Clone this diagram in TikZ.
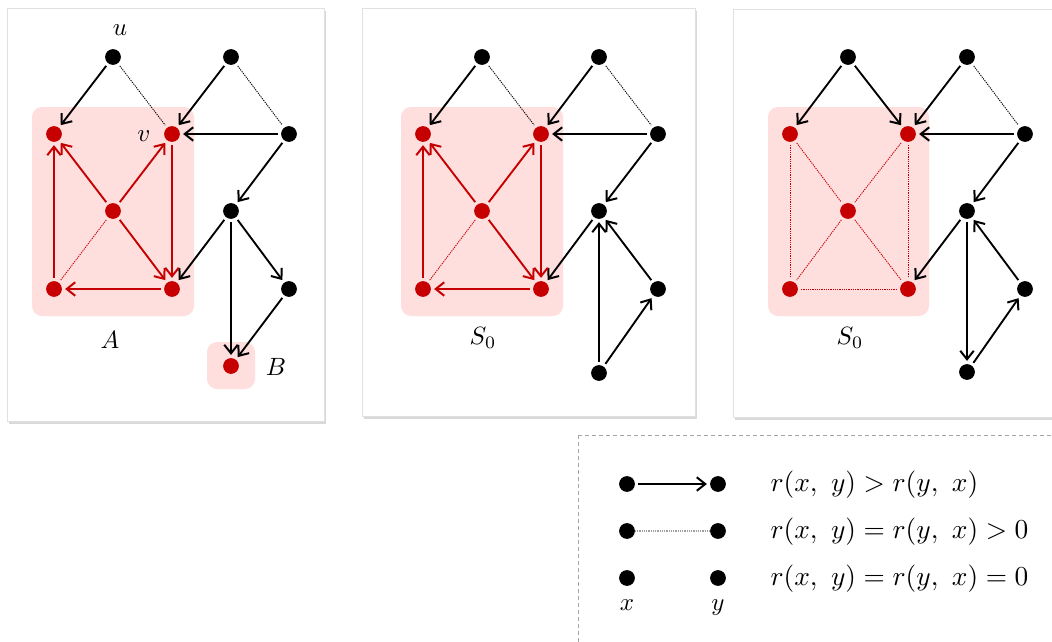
\documentclass[tikz,border=0pt]{standalone}
\usetikzlibrary{arrows.meta,shadows}
\definecolor{myred}{RGB}{198,0,0}
\definecolor{mypink}{RGB}{255,222,222}
\begin{document}
\begin{tikzpicture}[x=0.4pt,y=-0.4pt,
  bn/.style={circle,fill=black,inner sep=0pt,minimum size=6.3pt,outer sep=1.3pt},
  rn/.style={bn,fill=myred},
  arr/.style={line width=0.75pt,-{Straight Barb[length=3.4pt,width=5.4pt,line width=0.8pt]}},
  ra/.style={arr,myred},
  dl/.style={dash pattern=on 0.5pt off 0.4pt,line width=0.35pt},
  rd/.style={dl,myred},
  panel/.style={fill=white,draw=black!12,line width=0.3pt,drop shadow={shadow xshift=0.6pt,shadow yshift=-1pt,opacity=0.3}},
  grp/.style={fill=mypink,rounded corners=4pt},
  lab/.style={inner sep=0pt},
  legt/.style={inner sep=0pt,anchor=west,font=\fontsize{10.8}{13}\selectfont}]
\useasboundingbox (0,0) rectangle (1052,641);
\clip (0,0) rectangle (1052,641);
% panels
\path[panel] (7,8) rectangle (324,421);
\path[panel] (362,8) rectangle (695,416);
\path[panel] (733,9) rectangle (1075,417);
% ---------- panel 1
\begin{scope}
\path[grp] (32,107) rectangle (194,316);
\path[grp] (207,342) rectangle (255,389);
\node[bn] (a-t1) at (113,57) {};
\node[bn] (a-t2) at (231,57) {};
\node[rn] (a-r1) at (54,134) {};
\node[rn] (a-r2) at (172,134) {};
\node[bn] (a-k1) at (289,134) {};
\node[rn] (a-rc) at (113,211) {};
\node[bn] (a-k2) at (231,211) {};
\node[rn] (a-r3) at (54,289) {};
\node[rn] (a-r4) at (172,289) {};
\node[bn] (a-k3) at (289,289) {};
\node[rn] (a-B) at (231,366) {};
\node[lab] (a-u) at (120,30) {$u$};
\node[lab] (a-v) at (144,136) {$v$};
\node[lab] (a-A) at (110,340) {$A$};
\node[lab] (a-Bl) at (276,367) {$B$};
\draw[arr] (a-t1) -- (a-r1);
\draw[dl] (a-t1) -- (a-r2);
\draw[arr] (a-t2) -- (a-r2);
\draw[dl] (a-t2) -- (a-k1);
\draw[arr] (a-k1) -- (a-r2);
\draw[arr] (a-k1) -- (a-k2);
\draw[arr] (a-k2) -- (a-r4);
\draw[arr] (a-k2) -- (a-B);
\draw[arr] (a-k2) -- (a-k3);
\draw[arr] (a-k3) -- (a-B);
\draw[ra] (a-r3) -- (a-r1);
\draw[ra] (a-rc) -- (a-r1);
\draw[ra] (a-rc) -- (a-r2);
\draw[ra] (a-r2) -- (a-r4);
\draw[ra] (a-rc) -- (a-r4);
\draw[ra] (a-r4) -- (a-r3);
\draw[rd] (a-rc) -- (a-r3);
\end{scope}
% ---------- panel 2
\begin{scope}[shift={(369,0)}]
\path[grp] (32,107) rectangle (194,316);
\node[bn] (b-t1) at (113,57) {};
\node[bn] (b-t2) at (230,57) {};
\node[rn] (b-r1) at (54,134) {};
\node[rn] (b-r2) at (172,134) {};
\node[bn] (b-k1) at (289,134) {};
\node[rn] (b-rc) at (113,211) {};
\node[bn] (b-k2) at (230,211) {};
\node[rn] (b-r3) at (54,289) {};
\node[rn] (b-r4) at (172,289) {};
\node[bn] (b-k3) at (289,289) {};
\node[bn] (b-k4) at (230,373) {};
\node[lab] (b-S) at (114,338) {$S_0$};
\draw[arr] (b-t1) -- (b-r1);
\draw[dl] (b-t1) -- (b-r2);
\draw[arr] (b-t2) -- (b-r2);
\draw[dl] (b-t2) -- (b-k1);
\draw[arr] (b-k1) -- (b-r2);
\draw[arr] (b-k1) -- (b-k2);
\draw[arr] (b-k2) -- (b-r4);
\draw[arr] (b-k4) -- (b-k2);
\draw[arr] (b-k3) -- (b-k2);
\draw[arr] (b-k4) -- (b-k3);
\draw[ra] (b-r3) -- (b-r1);
\draw[ra] (b-rc) -- (b-r1);
\draw[ra] (b-rc) -- (b-r2);
\draw[ra] (b-r2) -- (b-r4);
\draw[ra] (b-rc) -- (b-r4);
\draw[ra] (b-r4) -- (b-r3);
\draw[rd] (b-rc) -- (b-r3);
\end{scope}
% ---------- panel 3
\begin{scope}[shift={(736,0)}]
\path[grp] (32,107) rectangle (193,316);
\node[bn] (c-t1) at (112,57) {};
\node[bn] (c-t2) at (231,57) {};
\node[rn] (c-r1) at (54,134) {};
\node[rn] (c-r2) at (172,134) {};
\node[bn] (c-k1) at (289,134) {};
\node[rn] (c-rc) at (112,211) {};
\node[bn] (c-k2) at (231,211) {};
\node[rn] (c-r3) at (54,289) {};
\node[rn] (c-r4) at (172,289) {};
\node[bn] (c-k3) at (289,289) {};
\node[bn] (c-k4) at (231,372) {};
\node[lab] (c-S) at (114,338) {$S_0$};
\draw[arr] (c-t1) -- (c-r1);
\draw[arr] (c-t1) -- (c-r2);
\draw[arr] (c-t2) -- (c-r2);
\draw[dl] (c-t2) -- (c-k1);
\draw[arr] (c-k1) -- (c-r2);
\draw[arr] (c-k1) -- (c-k2);
\draw[arr] (c-k2) -- (c-r4);
\draw[arr] (c-k2) -- (c-k4);
\draw[arr] (c-k3) -- (c-k2);
\draw[arr] (c-k4) -- (c-k3);
\draw[rd] (c-r1) -- (c-r3);
\draw[rd] (c-r1) -- (c-rc);
\draw[rd] (c-r2) -- (c-rc);
\draw[rd] (c-r2) -- (c-r4);
\draw[rd] (c-rc) -- (c-r3);
\draw[rd] (c-rc) -- (c-r4);
\draw[rd] (c-r3) -- (c-r4);
\end{scope}
% ---------- legend
\draw[gray!70,line width=0.4pt,dash pattern=on 1.6pt off 1.2pt] (578,435) rectangle (1080,670);
\node[bn] (l-x1) at (627,484) {};
\node[bn] (l-y1) at (718,484) {};
\node[bn,outer sep=0pt] (l-x2) at (627,531) {};
\node[bn,outer sep=0pt] (l-y2) at (718,531) {};
\node[bn] (l-x3) at (627,578) {};
\node[bn] (l-y3) at (718,578) {};
\node[lab,anchor=base] (l-x) at (627,610) {$x$};
\node[lab,anchor=base] (l-y) at (718,610) {$y$};
\draw[arr] (l-x1) -- (l-y1);
\draw[dl,gray!75,line width=0.55pt] (l-x2) -- (l-y2);
\node[legt] (l-t1) at (770,485) {$r(x,\ y) > r(y,\ x)$};
\node[legt] (l-t2) at (770,532) {$r(x,\ y) = r(y,\ x) > 0$};
\node[legt] (l-t3) at (770,579) {$r(x,\ y) = r(y,\ x) = 0$};
\end{tikzpicture}
\end{document}
